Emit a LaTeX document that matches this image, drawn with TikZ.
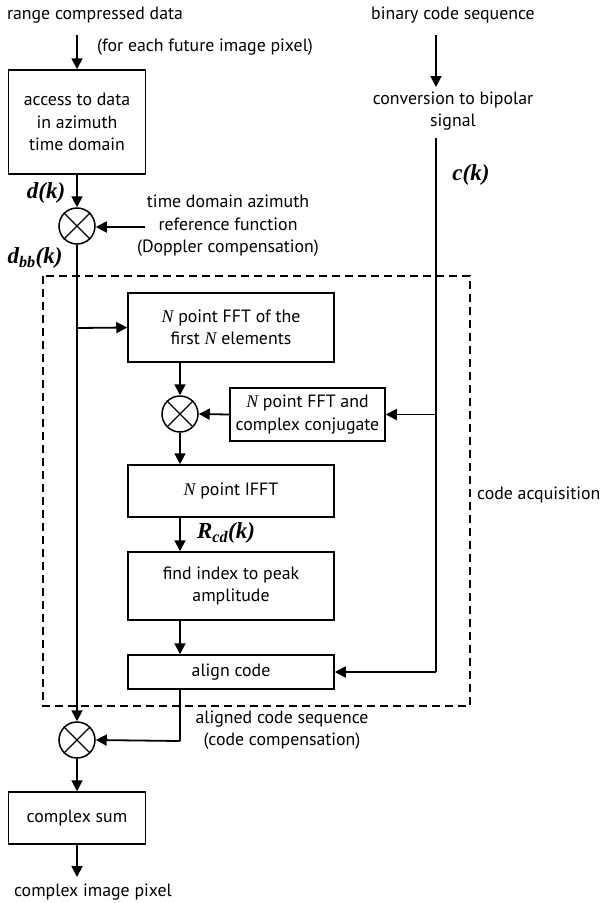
\documentclass[tikz,border=0pt]{standalone}
\usepackage{fontspec}
\setmainfont{PT Sans}
\newfontfamily\tmsf{Liberation Serif}
\usetikzlibrary{arrows.meta}
\begin{document}
\begin{tikzpicture}[x=1pt,y=-1pt,
  every node/.style={font=\fontsize{17.8}{22.5}\selectfont},
  blk/.style={draw,line width=1.5pt,rectangle,inner sep=0pt,align=center},
  mul/.style={draw,line width=1.5pt,circle,minimum size=36pt,inner sep=0pt},
  txt/.style={align=center,inner sep=0pt},
  sig/.style={inner sep=0pt,font=\fontsize{23}{26}\selectfont\tmsf\bfseries\itshape},
  flow/.style={line width=1.8pt,-{Triangle[length=11pt,width=11pt]}},
  wire/.style={line width=1.8pt},
  dashbox/.style={line width=2.4pt,dash pattern=on 8pt off 5pt}
]
\useasboundingbox (0,0) rectangle (602,903);
\newcommand{\NN}{{\tmsf\itshape N}}
% left column
\node[txt] (trcd) at (95,15) {range compressed data};
\coordinate (in1) at (77,35);
\node[txt,anchor=west] (tfor) at (97,47) {(for each future image pixel)};
\node[blk,minimum width=137pt,minimum height=104pt] (box1) at (77,122) {access to data\\in azimuth\\time domain};
\node[mul] (c1) at (77,226) {};
\node[sig] (dk) at (46,193) {d(k)};
\node[txt] (dop) at (228,226) {time domain azimuth\\reference function\\(Doppler compensation)};
\coordinate (dopin) at (145,227);
\node[sig] (dbb) at (35,258) {d\textsubscript{bb}(k)};
% dashed region
\draw[dashbox] (43,276) rectangle (470,706);
\node[txt,anchor=west] (acq) at (477,495) {code acquisition};
\node[blk,minimum width=206pt,minimum height=69pt] (fft1) at (231,327.5) {\NN{} point FFT of the\\first \NN{} elements};
\coordinate (br1) at (77,328);
\node[mul] (c2) at (180,414) {};
\node[blk,minimum width=155pt,minimum height=53pt] (fft2) at (307.5,414.5) {\NN{} point FFT and\\complex conjugate};
\node[blk,minimum width=206pt,minimum height=52pt] (ifft) at (231,491) {\NN{} point IFFT};
\node[sig] (rcd) at (226,533) {R\textsubscript{cd}(k)};
\node[blk,minimum width=206pt,minimum height=68pt] (find) at (231,586) {find index to peak\\amplitude};
\node[blk,minimum width=206pt,minimum height=34pt] (align) at (231,672) {align code};
\coordinate (aldn) at (180,741);
\node[txt] (alt) at (282,730) {aligned code sequence\\(code compensation)};
\node[mul] (c3) at (77,740) {};
\node[blk,minimum width=137pt,minimum height=52pt] (sum) at (77,818) {complex sum};
\coordinate (out) at (77,877);
\node[txt] (tout) at (93,892) {complex image pixel};
% right column
\node[txt] (tbin) at (453,15) {binary code sequence};
\coordinate (in2) at (436,35);
\coordinate (conv2) at (436,87);
\node[txt] (tconv) at (453,111) {conversion to bipolar\\signal};
\coordinate (cs) at (436,138);
\node[sig] (ck) at (471,175) {c(k)};
\coordinate (cb1) at (436,414.5);
\coordinate (cb2) at (436,672);
% crosses
\foreach \c in {c1,c2,c3}{
  \draw[line width=1.2pt] (\c.north east) -- (\c.south west) (\c.north west) -- (\c.south east);
}
% connectors
\draw[flow] (in1) -- (box1.north);
\draw[flow] (box1.south) -- (c1.north);
\draw[flow] (dopin) -- (dopin -| c1.east);
\draw[flow] (c1.south) -- (c3.north);
\draw[flow] (br1) -- (fft1.west);
\draw[flow] (fft1.south -| c2) -- (c2.north);
\draw[flow] (fft2.west) -- (c2.east);
\draw[flow] (c2.south) -- (c2.south |- ifft.north);
\draw[flow] (ifft.south -| c2) -- (c2 |- find.north);
\draw[flow] (find.south -| c2) -- (c2 |- align.north);
\draw[wire] (align.south -| aldn) -- (aldn);
\draw[flow] (aldn) -- (c3.east);
\draw[flow] (c3.south) -- (sum.north);
\draw[flow] (sum.south) -- (out);
\draw[flow] (in2) -- (conv2);
\draw[wire] (cs) -- (cb2);
\draw[flow] (cb1) -- (fft2.east);
\draw[flow] (cb2) -- (align.east);
\end{tikzpicture}
\end{document}
